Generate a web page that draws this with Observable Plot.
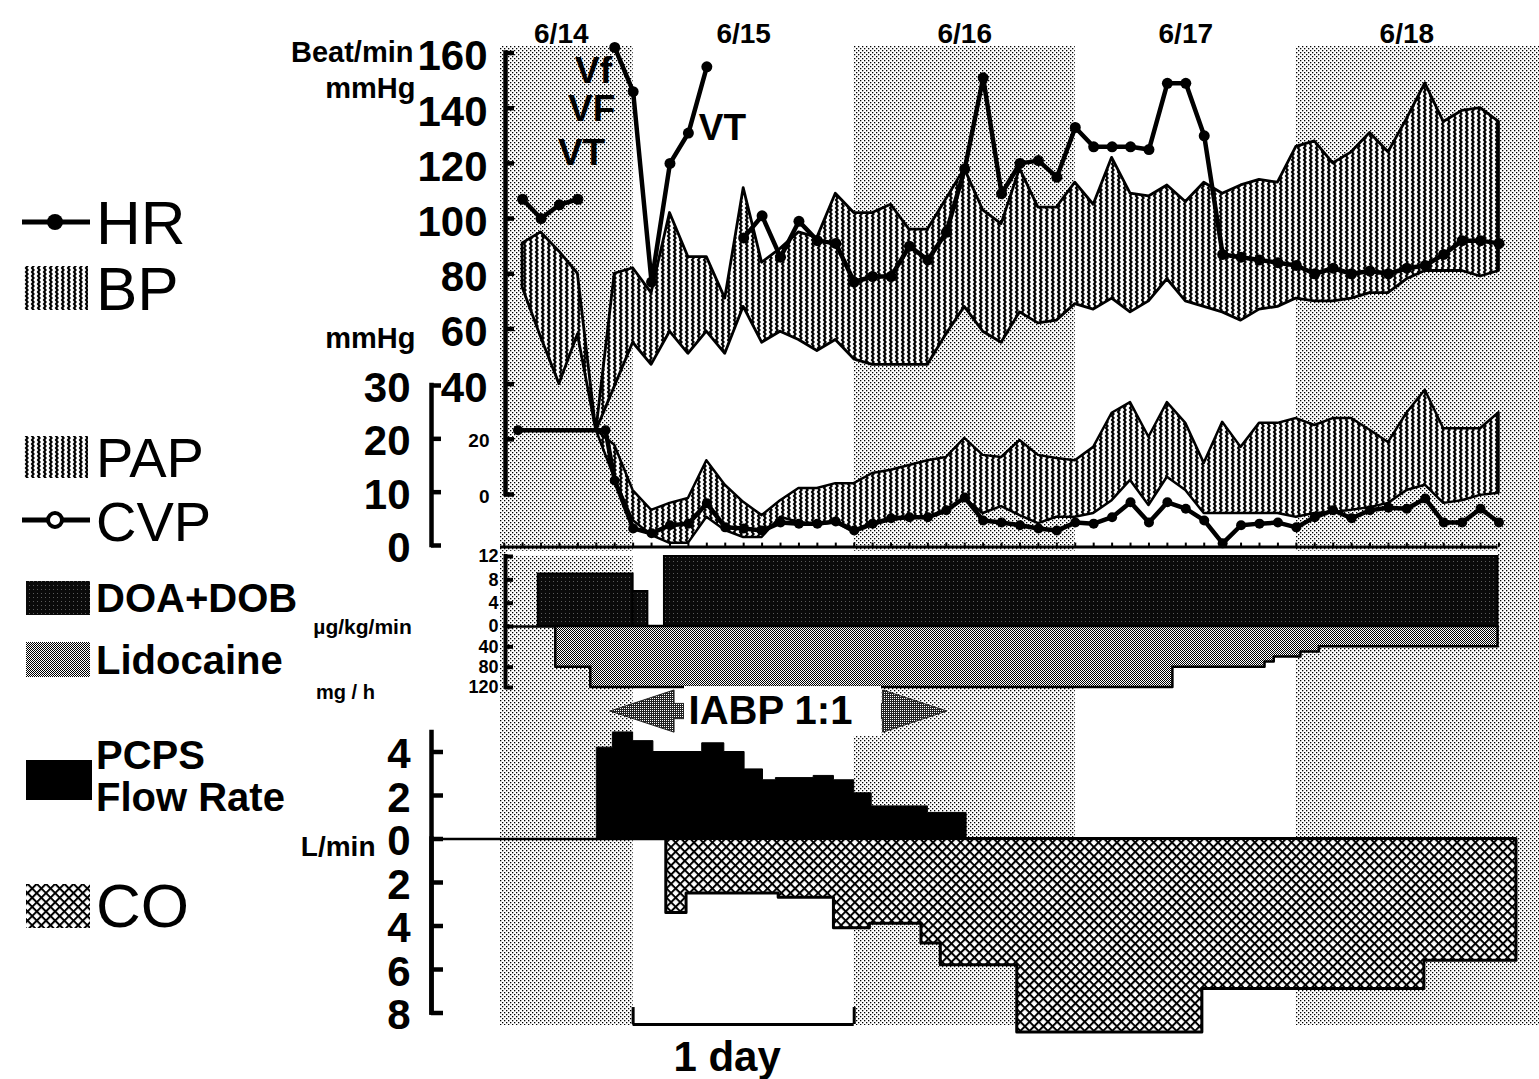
<!DOCTYPE html>
<html><head><meta charset="utf-8">
<script src="https://cdn.jsdelivr.net/npm/d3@7"></script>
<script src="https://cdn.jsdelivr.net/npm/@observablehq/plot@0.6"></script>
<style>
body{margin:0;background:#fff;}
#chart{position:relative;width:1539px;height:1079px;overflow:hidden;background:#fff;}
</style></head><body>
<svg width="0" height="0" style="position:absolute;left:0;top:0" aria-hidden="true">
<defs>
<pattern id="band" width="4" height="4" patternUnits="userSpaceOnUse">
<rect x="0" y="0" width="1.3" height="1.3" fill="#000"/>
<rect x="2" y="2" width="1.3" height="1.3" fill="#000"/>
</pattern>
<pattern id="wavy" width="6" height="4" patternUnits="userSpaceOnUse">
<rect width="6" height="4" fill="#fff"/>
<path d="M2,0 L3.6,2 L2,4" fill="none" stroke="#000" stroke-width="2.1" stroke-linecap="square"/>
</pattern>
<pattern id="doa" width="4" height="4" patternUnits="userSpaceOnUse">
<rect width="4" height="4" fill="#0a0a0a"/>
<rect x="1" y="1" width="1" height="1" fill="#5a5a5a"/>
</pattern>
<pattern id="lido" width="2" height="2" patternUnits="userSpaceOnUse">
<rect width="2" height="2" fill="#fff"/>
<rect width="1" height="1" fill="#000"/>
<rect x="1" y="1" width="1" height="1" fill="#000"/>
</pattern>
<pattern id="dark" width="2" height="2" patternUnits="userSpaceOnUse">
<rect width="2" height="2" fill="#222"/>
<rect width="1" height="1" fill="#fff"/>
</pattern>
<pattern id="co" width="6.5" height="6.5" patternUnits="userSpaceOnUse" patternTransform="rotate(45)">
<rect width="6.5" height="6.5" fill="#fff"/>
<rect width="6.5" height="2" fill="#000"/>
<rect width="2" height="6.5" fill="#000"/>
</pattern>
</defs></svg>
<div id="chart">
<svg id="legend" width="430" height="1079" style="position:absolute;left:0;top:0">
<g font-family="'Liberation Sans', Arial, Helvetica, sans-serif" fill="#000">
<line x1="22" x2="90" y1="222" y2="222" stroke="#000" stroke-width="5"/>
<circle cx="55" cy="222" r="8" fill="#000"/>
<text x="96" y="244" font-size="62">HR</text>
<rect x="24" y="266" width="64" height="44" fill="url(#wavy)"/>
<text x="96" y="310" font-size="62">BP</text>
<rect x="24" y="436" width="64" height="42" fill="url(#wavy)"/>
<text x="96" y="477" font-size="56">PAP</text>
<line x1="22" x2="90" y1="520" y2="520" stroke="#000" stroke-width="5"/>
<circle cx="55" cy="520" r="7" fill="#fff" stroke="#000" stroke-width="4"/>
<text x="96" y="541" font-size="56">CVP</text>
<rect x="26" y="581" width="64" height="34" fill="url(#doa)"/>
<text x="96" y="612" font-size="40" font-weight="bold">DOA+DOB</text>
<rect x="26" y="642" width="64" height="35" fill="url(#lido)"/>
<text x="96" y="674" font-size="40" font-weight="bold">Lidocaine</text>
<rect x="26" y="760" width="66" height="40" fill="#000"/>
<text x="96" y="769" font-size="40" font-weight="bold">PCPS</text>
<text x="96" y="811" font-size="40" font-weight="bold">Flow Rate</text>
<rect x="26" y="884" width="64" height="44" fill="url(#co)"/>
<text x="96" y="927" font-size="62">CO</text>
</g></svg>
</div>
<script>
// ---------------- DATA (hours from 6/15 00:00) ----------------
const days = ["6/14", "6/15", "6/16", "6/17", "6/18"];
const dayLabelHour = [-7.8, 12, 36, 60, 84];
const shadedStart = [-24, 24, 72];
const shadedEnd = [0, 48, 98.4];

const bpHour = [-12,-10,-8,-6,-4,-2,0,2,4,6,8,10,12,14,16,18,20,22,24,26,28,30,32,34,36,38,40,42,44,46,48,50,52,54,56,58,60,62,64,66,68,70,72,74,76,78,80,82,84,86,88,90,92,94];
const bpSys = [91,95,88,80,23,80,82,73,102,86,86,71,111,84,89,95,93,109,102,102,105,96,96,107,118,103,98,118,104,104,113,105,122,109,108,112,106,113,109,112,114,113,126,128,120,124,131,124,136,149,135,139,140,135];
const bpDia = [75,57,40,58,23,39,55,47,59,51,59,51,68,55,59,56,52,56,49,47,47,47,47,58,68,59,55,66,62,63,69,67,71,66,70,78,70,68,66,63,67,68,71,70,70,71,73,73,78,81,81,81,79,81];

const hrHour = [-12,-10,-8,-6,-2,0,2,4,6,8,12,14,16,18,20,22,24,26,28,30,32,34,36,38,40,42,44,46,48,50,52,54,56,58,60,62,64,66,68,70,72,74,76,78,80,82,84,86,88,90,92,94];
const hrRate = [107,100,105,107,162,146,77,120,131,155,93,101,86,99,92,91,77,79,79,90,85,95,118,151,109,120,121,115,133,126,126,126,125,149,149,130,87,86,85,84,83,80,82,80,81,80,82,83,87,92,92,91];

const papHour = [-4,-2,0,2,4,6,8,10,12,14,16,18,20,22,24,26,28,30,32,34,36,38,40,42,44,46,48,50,52,54,56,58,60,62,64,66,68,70,72,74,76,78,80,82,84,86,88,90,92,94];
const papSys = [21.6,18.8,10.3,6.6,7.9,8.8,15.9,11.3,8.1,5.6,8.4,10.7,10.7,11.6,11.6,13.5,14.1,15,15.9,16.5,20.1,16.9,16.5,19.7,16.9,16.3,15.9,18.4,24.8,26.8,20.3,26.8,22.9,15.4,23.1,18.4,22.9,22.9,23.8,22.5,23.8,23.8,21.6,19.3,24.8,29.1,21.9,21.9,21.9,24.9];
const papDia = [21.6,12.6,4.7,1.9,0.4,0.4,5.3,2.8,1.5,1.5,5.3,4.3,3.8,4.3,2.4,3.8,4.7,5.1,5.1,6.2,8.8,6,7.3,5.6,4.1,5.3,5.3,6,8.4,12.2,7.5,12.8,10.3,6,6,6,6,6,5.3,6,6.2,6.6,7.1,7.9,10.3,11.3,7.9,8.4,9.4,9.8];

const cvpHour = [-12.5,-3,-2,0,2,4,6,8,10,12,14,16,18,20,22,24,26,28,30,32,34,36,38,40,42,44,46,48,50,52,54,56,58,60,62,64,66,68,70,72,74,76,78,80,82,84,86,88,90,92,94];
const cvpVal = [21.6,21.6,12.2,3.2,2.3,3.8,4.1,7.9,3.4,3.2,2.8,4.3,4.1,4.1,4.5,2.8,4.1,5.1,5.3,5.3,6.6,9,4.7,4.3,3.8,3.2,2.8,4.3,4.1,5.3,8.1,4.3,8.1,6.9,4.7,0.4,3.8,4.1,4.3,3.4,5.3,6.6,5.1,6.6,7.1,6.9,8.8,4.3,4.3,6.9,4.3];

const doaStart = [-10.3, 0, 3.4];
const doaEnd = [0, 1.6, 93.9];
const doaDose = [9, 6, 12];

const lidoStart = [-8.4, -4.6, 58.6, 68.6, 69.6, 72.5, 74.5];
const lidoRate = [80, 120, 80, 70, 60, 50, 40];
const lidoEnd = 93.9;

const pcpsStart = [-3.9,-2.2,0,2.2,7.5,9.9,12.1,14.1,15.5,19.6,21.8,24,25.9,32];
const pcpsFlow = [4.2,4.9,4.5,4.0,4.4,4.0,3.2,2.7,2.8,2.9,2.7,2.1,1.5,1.2];
const pcpsEnd = 36.2;

const coStart = [3.6,5.8,15.8,21.8,25.7,31.3,33.4,41.7,61.8,85.9];
const coFlow = [3.4,2.5,2.7,4.1,3.9,4.8,5.8,8.9,6.9,5.6];
const coEnd = 95.9;

const iabpStart = -2.45, iabpEnd = 34.1;
const iabpLabel = "IABP 1:1";

const bpTicks = [160,140,120,100,80,60,40];
const papTicks = [20,0];
const cvpTicks = [30,20,10,0];
const doaTicks = [12,8,4,0];
const lidoTicks = [40,80,120];
const pcpsTicks = [4,2,0];
const coTicks = [2,4,6,8];

// ---------------- LAYOUT ----------------
const W = 1539, H = 1079, ML = 500, MR = 0;
const xDomain = [-14.4, 98.4];
const K = (xDomain[1] - xDomain[0]) / (W - ML - MR);
const hx = px => xDomain[0] + (px - ML) * K;
const hw = px => px * K;
const FONT = '"Liberation Sans", Arial, Helvetica, sans-serif';
const NARROW = '"Liberation Sans Narrow", "Arial Narrow", "Liberation Sans", Arial, sans-serif';
const chart = document.getElementById("chart");
const legendEl = document.getElementById("legend");

function layer(yOpts, mt, mb, marks) {
  const svg = Plot.plot({
    width: W, height: H, marginLeft: ML, marginRight: MR, marginTop: mt, marginBottom: mb,
    x: {domain: xDomain, axis: null},
    y: {axis: null, ...yOpts},
    marks
  });
  svg.setAttribute("style", "position:absolute;left:0;top:0;background:transparent;overflow:visible;max-width:none;");
  chart.insertBefore(svg, legendEl);
}
const T = (rows, o = {}) => Plot.text(rows, {x: "x", y: "y", text: "text", fill: "black", fontFamily: FONT, fontWeight: "bold", ...o});
function yAxis(px, y1, y2, ticks, tickPx, sw) {
  const x = hx(px);
  return [
    Plot.ruleX([{x, y1, y2}], {x: "x", y1: "y1", y2: "y2", stroke: "black", strokeWidth: sw, strokeLinecap: "square"}),
    Plot.ruleY(ticks.map(v => ({y: v, x1: x, x2: x + hw(tickPx)})), {y: "y", x1: "x1", x2: "x2", stroke: "black", strokeWidth: sw})
  ];
}
const yLabels = (px, ticks, size, font, dy = 0) =>
  T(ticks.map(v => ({x: hx(px), y: v, text: String(v)})), {textAnchor: "end", fontSize: size, fontFamily: font, dy});
function stepRows(starts, vals, end) {
  const r = starts.map((s, i) => ({t: s, v: vals[i]}));
  r.push({t: end, v: vals[vals.length - 1]});
  return r;
}

// ---------------- derived tables ----------------
const bands = shadedStart.map((s, i) => ({x1: Math.max(s, xDomain[0]), x2: Math.min(shadedEnd[i], xDomain[1])}));
const bpData = bpHour.map((t, i) => ({t, sys: bpSys[i], dia: bpDia[i]}));
const hrData = hrHour.map((t, i) => ({t, v: hrRate[i]}));
let seg = 0;
hrData.forEach((d, i) => { if (i > 0 && d.t - hrData[i - 1].t > 3) seg++; d.seg = seg; });
const papData = papHour.map((t, i) => ({t, sys: papSys[i], dia: papDia[i]}));
const cvpData = cvpHour.map((t, i) => ({t, v: cvpVal[i]}));
const doaData = doaStart.map((s, i) => ({s, e: doaEnd[i], y1: 0, dose: doaDose[i]}));
const lidoData = stepRows(lidoStart, lidoRate, lidoEnd);
const pcpsData = stepRows(pcpsStart, pcpsFlow, pcpsEnd);
const coData = stepRows(coStart, coFlow, coEnd);
const xTicks = d3.range(-14, 95, 2);

// ---------------- background day bands ----------------
layer({domain: [0, 1]}, 46, 54, [
  Plot.rect(bands, {x1: "x1", x2: "x2", fill: "url(#band)"})
]);

// ---------------- HR / BP ----------------
layer({domain: [0, 160]}, 52.5, 585, [
  Plot.areaY(bpData, {x: "t", y1: "dia", y2: "sys", fill: "url(#wavy)", stroke: "black", strokeWidth: 2.8, strokeLinejoin: "round"}),
  Plot.line(hrData, {x: "t", y: "v", z: "seg", stroke: "black", strokeWidth: 4.5, strokeLinejoin: "round"}),
  Plot.dot(hrData, {x: "t", y: "v", r: 5.5, fill: "black"}),
  ...yAxis(505, 0, 160, [...bpTicks, ...papTicks], 9, 4.5),
  yLabels(487, bpTicks, 42, NARROW, 4),
  yLabels(489, papTicks, 19, FONT, 2),
  T([{x: hx(413), y: 160, text: "Beat/min"}, {x: hx(415), y: 147, text: "mmHg"}, {x: hx(415), y: 56.5, text: "mmHg"}], {textAnchor: "end", fontSize: 29}),
  T(days.map((d, i) => ({x: dayLabelHour[i], y: 167, text: d})), {fontSize: 28}),
  T([{x: -4.3, y: 153.5, text: "Vf"}, {x: -4.5, y: 139.5, text: "VF"}, {x: -5.6, y: 123.8, text: "VT"}, {x: 9.7, y: 132.6, text: "VT"}], {fontSize: 37})
]);

// ---------------- PAP / CVP ----------------
layer({domain: [0, 30]}, 385, 534, [
  Plot.areaY(papData, {x: "t", y1: "dia", y2: "sys", fill: "url(#wavy)", stroke: "black", strokeWidth: 2.5, strokeLinejoin: "round"}),
  Plot.line(cvpData, {x: "t", y: "v", stroke: "black", strokeWidth: 4.5, strokeLinejoin: "round"}),
  Plot.dot(cvpData, {x: "t", y: "v", r: 5, fill: "black"}),
  Plot.ruleY([{y: -0.3, x1: hx(500), x2: 93.9}], {y: "y", x1: "x1", x2: "x2", stroke: "black", strokeWidth: 3}),
  Plot.ruleX(xTicks.map(t => ({x: t, y1: -0.3, y2: 0.45})), {x: "x", y1: "y1", y2: "y2", stroke: "black", strokeWidth: 2}),
  Plot.ruleY([{y: -1.45, x1: hx(507), x2: 93.9}], {y: "y", x1: "x1", x2: "x2", stroke: "white", strokeWidth: 5}),
  ...yAxis(431, 0, 30, cvpTicks, 10, 4.5),
  yLabels(410, cvpTicks, 42, NARROW, 3)
]);

// ---------------- DOA + DOB ----------------
layer({domain: [0, 12]}, 556, 453, [
  Plot.rect(doaData, {x1: "s", x2: "e", y1: "y1", y2: "dose", fill: "url(#doa)", stroke: "black", strokeWidth: 2}),
  Plot.ruleY([{y: 0, x1: hx(505), x2: 93.9}], {y: "y", x1: "x1", x2: "x2", stroke: "black", strokeWidth: 2.5}),
  ...yAxis(505, 0, 12, doaTicks, 8, 4),
  yLabels(498, doaTicks, 18, NARROW, 0),
  T([{x: hx(362), y: -0.2, text: "µg/kg/min"}], {fontSize: 21})
]);

// ---------------- Lidocaine ----------------
layer({domain: [0, 120], reverse: true}, 626, 392, [
  Plot.areaY(lidoData, {x: "t", y: "v", curve: "step-after", fill: "url(#lido)", stroke: "black", strokeWidth: 2.5}),
  ...yAxis(505, 0, 120, lidoTicks, 8, 4),
  yLabels(498, lidoTicks, 18, NARROW, 0),
  T([{x: hx(345), y: 130, text: "mg / h"}], {fontSize: 20})
]);

// ---------------- PCPS flow ----------------
const yc = 5.86;
function arrowRows(tip, dir, id) {
  const base = tip + dir * hw(64), end = base + dir * hw(32);
  const r = [
    {id, x: tip, y1: yc, y2: yc},
    {id, x: base, y1: yc - 0.97, y2: yc + 0.97},
    {id, x: base, y1: yc - 0.35, y2: yc + 0.35},
    {id, x: end, y1: yc - 0.35, y2: yc + 0.35}
  ];
  return dir > 0 ? r : r.reverse();
}
const arrows = [...arrowRows(iabpStart, 1, "a"), ...arrowRows(iabpEnd, -1, "b")];
const labX = hx(770);
layer({domain: [0, 4]}, 751.5, 240.5, [
  Plot.areaY(pcpsData, {x: "t", y: "v", curve: "step-after", fill: "black", stroke: "black", strokeWidth: 1}),
  Plot.ruleY([{y: 0, x1: hx(431), x2: coEnd}], {y: "y", x1: "x1", x2: "x2", stroke: "black", strokeWidth: 2.5}),
  ...yAxis(431, -8, 4.9, pcpsTicks, 12, 4.5),
  yLabels(410, pcpsTicks, 42, NARROW, 3),
  T([{x: hx(375), y: -0.35, text: "L/min"}], {textAnchor: "end", fontSize: 28}),
  Plot.areaY(arrows, {x: "x", y1: "y1", y2: "y2", z: "id", fill: "url(#dark)", stroke: "#222", strokeWidth: 1}),
  Plot.rect([{x1: labX - hw(86), x2: labX + hw(111), y1: yc - 1.15, y2: yc + 1.15}], {x1: "x1", x2: "x2", y1: "y1", y2: "y2", fill: "white"}),
  T([{x: labX, y: yc, text: iabpLabel}], {fontSize: 40}),
  Plot.ruleY([{y: -8.53, x1: 0, x2: 24}], {y: "y", x1: "x1", x2: "x2", stroke: "black", strokeWidth: 3}),
  Plot.ruleX([{x: 0}, {x: 24}], {x: "x", y1: -8.53, y2: -7.75, stroke: "black", strokeWidth: 3}),
  T([{x: 10.2, y: -10.05, text: "1 day"}], {fontSize: 42})
]);

// ---------------- CO ----------------
layer({domain: [0, 8], reverse: true}, 838.5, 66.5, [
  Plot.areaY(coData, {x: "t", y: "v", curve: "step-after", fill: "url(#co)", stroke: "black", strokeWidth: 3}),
  ...yAxis(431, 0, 8, coTicks, 12, 4.5),
  yLabels(410, coTicks, 42, NARROW, 3)
]);
</script>
</body></html>
